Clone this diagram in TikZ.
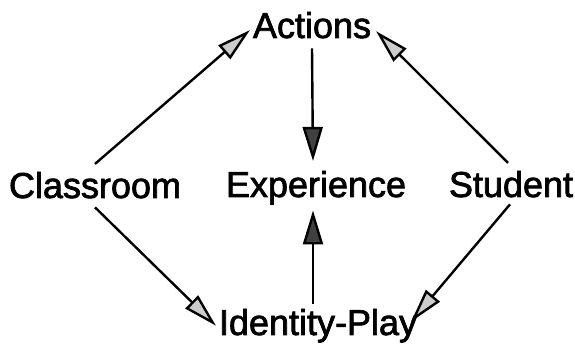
\documentclass[tikz,border=0pt]{standalone}
\usepackage{fontspec}
\setmainfont{Liberation Sans}
\newfontfamily\heavyfont[FakeBold=2]{Liberation Sans}
\usetikzlibrary{arrows.meta}
\tikzset{
  lbl/.style={inner sep=0pt, outer sep=0pt, anchor=base, font=\heavyfont\fontsize{36}{40}\selectfont},
  arrlight/.style={line width=2.4pt, -{Triangle[length=34pt, width=18pt, fill=gray!40]}},
  arrdark/.style={line width=2.4pt, -{Triangle[length=34pt, width=20pt, fill=black!75]}}
}
\begin{document}
\begin{tikzpicture}[x=1pt,y=1pt]
\useasboundingbox[fill=white] (0,0) rectangle (575,347);
\node[lbl] (actions) at (312,309) {Actions};
\node[lbl] (experience) at (316,150) {Experience};
\node[lbl] (classroom) at (95,149) {Classroom};
\node[lbl] (student) at (511,150) {Student};
\node[lbl] (identity) at (318,12) {Identity-Play};
\draw[arrlight] ([yshift=8pt]classroom.north) -- ([xshift=-3pt,yshift=-5pt]actions.west);
\draw[arrlight] ([xshift=-3pt,yshift=8pt]student.north) -- ([xshift=5pt,yshift=-6pt]actions.east);
\draw[arrlight] ([yshift=-9pt]classroom.south) -- ([xshift=-3pt]identity.west);
\draw[arrlight] ([xshift=-1pt,yshift=-7pt]student.south) -- ([xshift=-6pt,yshift=4pt]identity.east);
\draw[arrdark] ([yshift=-10pt]actions.south) -- ([xshift=-3pt,yshift=10pt]experience.north);
\draw[arrdark] ([xshift=-5pt,yshift=5pt]identity.north) -- ([xshift=-3pt,yshift=-6pt]experience.south);
\end{tikzpicture}
\end{document}
